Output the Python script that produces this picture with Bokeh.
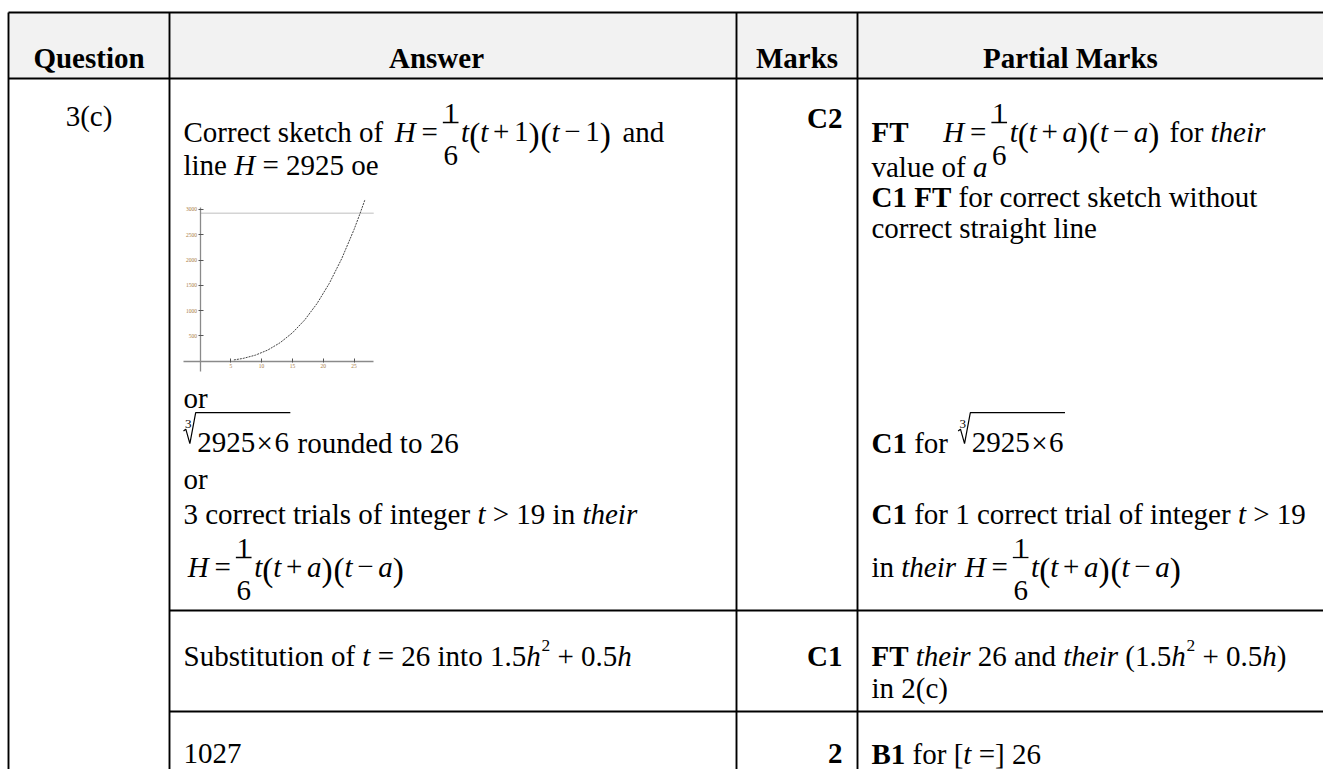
from bokeh.plotting import figure
from bokeh.models import Range1d, FixedTicker, LinearAxis
from bokeh.embed import file_html
from bokeh.resources import INLINE
from bokeh.core.properties import value

# ---------------- data ----------------
t_curve = [5.5, 7, 9, 11, 13, 15, 17, 19, 21, 23, 25, 26, 26.8]
H_curve = [25, 55, 120, 220, 365, 560, 815, 1140, 1540, 2025, 2600, 2925, 3200]
H_line = 2925
t_ticks = [5, 10, 15, 20, 25]
t_tick_labels = ["5", "10", "15", "20", "25"]
H_ticks = [500, 1000, 1500, 2000, 2500, 3000]
H_tick_labels = ["500", "1000", "1500", "2000", "2500", "3000"]
t_axis_extent = (-2.6, 28.2)
H_axis_extent = (-200, 3030)

headers = ["Question", "Answer", "Marks", "Partial Marks"]
question_label = "3(c)"
marks_awarded = ["C2", "C1", "2"]


def math_expr(c, cstyle):
    return [("i", "H"), ("g", 0.2), ("r", "="), ("g", 0.12), ("frac", "1", "6"), ("g", 0.04),
            ("i", "t"), ("p", "("), ("i", "t"), ("g", 0.16), ("r", "+"), ("g", 0.16), (cstyle, c),
            ("p", ")"), ("g", 0.03), ("p", "("), ("i", "t"), ("g", 0.16), ("r", "\u2212"), ("g", 0.16),
            (cstyle, c), ("p", ")")]


root_2925 = ("root", "3", [("r", "2925"), ("g", 0.05), ("r", "\u00d7"), ("g", 0.05), ("r", "6")])

answer_lines = [
    [("r", "Correct sketch of "), ("g", 0.15)] + math_expr("1", "r") + [("g", 0.15), ("r", " and")],
    [("r", "line "), ("i", "H"), ("r", " = 2925 oe")],
    [("r", "or")],
    [root_2925, ("g", 0.25), ("r", "rounded to 26")],
    [("r", "or")],
    [("r", "3 correct trials of integer "), ("i", "t"), ("r", " > 19 in "), ("i", "their")],
    [("g", 0.15)] + math_expr("a", "i"),
    [("r", "Substitution of "), ("i", "t"), ("r", " = 26 into 1.5"), ("i", "h"), ("sup", "2"),
     ("r", " + 0.5"), ("i", "h")],
    [("r", "1027")],
]
partial_lines = [
    [("b", "FT"), ("g", 1.2)] + math_expr("a", "i") + [("g", 0.1), ("r", " for "), ("i", "their")],
    [("r", "value of "), ("i", "a")],
    [("b", "C1 FT"), ("r", " for correct sketch without")],
    [("r", "correct straight line")],
    [("b", "C1"), ("r", " for "), ("g", 0.1), root_2925],
    [("b", "C1"), ("r", " for 1 correct trial of integer "), ("i", "t"), ("r", " > 19")],
    [("r", "in "), ("i", "their"), ("g", 0.3)] + math_expr("a", "i"),
    [("b", "FT"), ("r", " "), ("i", "their"), ("r", " 26 and "), ("i", "their"), ("r", " (1.5"),
     ("i", "h"), ("sup", "2"), ("r", " + 0.5"), ("i", "h"), ("r", ")")],
    [("r", "in 2(c)")],
    [("b", "B1"), ("r", " for ["), ("i", "t"), ("r", " =] 26")],
]

# ---------------- layout constants (page pixels) ----------------
FONT = "Liberation Serif"
F = 29
PW, PH = 1323, 769
COLS = [8, 169, 736, 857]
RIGHT = PW
TOP, HEAD_BOTTOM, ROW2_TOP, ROW3_TOP, BOTTOM = 12, 78, 610, 711, PH
HEAD_BASE = 57
HEAD_CENTERS = [88.5, 436, 796.5, 1070]
Q_CENTER, Q_BASE = 88.5, 115
MARK_RIGHT = 842
MARK_BASES = [117, 655, 753]
ANS_X = 183
ANS_BASES = [131, 164, 397, 442, 478, 513, 566, 655, 753]
PART_X = 871
PART_BASES = [131, 166, 196, 227, 442, 513, 566, 655, 687, 753]

# ---------------- Times / Liberation Serif advance widths ----------------
_common = {' ': 250, '(': 333, ')': 333, '+': 564, '.': 250, '=': 564, '>': 564, '[': 333, ']': 333,
           '\u00d7': 564, '\u2212': 564, ',': 250}
for d in "0123456789":
    _common[d] = 500
ROMAN = dict(_common)
ROMAN.update(dict(zip("abcdefghijklmnopqrstuvwxyz",
                      [444, 500, 444, 500, 444, 333, 500, 500, 278, 278, 500, 278, 778, 500, 500, 500, 500, 333,
                       389, 278, 500, 500, 722, 500, 500, 444])))
ROMAN.update(dict(zip("ABCDEFGHIJKLMNOPQRSTUVWXYZ",
                      [722, 667, 667, 722, 611, 556, 722, 722, 333, 389, 722, 611, 889, 722, 722, 556, 722, 667,
                       556, 611, 722, 722, 944, 722, 722, 611])))
BOLD = dict(_common)
BOLD.update(dict(zip("abcdefghijklmnopqrstuvwxyz",
                     [500, 556, 444, 556, 444, 333, 500, 556, 278, 333, 556, 278, 833, 556, 500, 556, 556, 444,
                      389, 333, 556, 500, 722, 500, 500, 444])))
BOLD.update(dict(zip("ABCDEFGHIJKLMNOPQRSTUVWXYZ",
                     [722, 667, 722, 722, 667, 611, 778, 778, 389, 500, 778, 667, 944, 722, 778, 611, 778, 722,
                      556, 667, 722, 722, 1000, 722, 722, 667])))
ITALIC = dict(_common)
ITALIC.update(dict(zip("abcdefghijklmnopqrstuvwxyz",
                       [500, 500, 444, 500, 444, 278, 500, 500, 278, 278, 444, 278, 722, 500, 500, 500, 500, 389,
                        389, 278, 500, 444, 667, 444, 444, 389])))
ITALIC.update({'H': 722})
METRICS = {"normal": ROMAN, "bold": BOLD, "italic": ITALIC}
STYLE = {"r": "normal", "b": "bold", "i": "italic"}

texts = {}
segs = dict(x0=[], y0=[], x1=[], y1=[])
polys = dict(xs=[], ys=[])


def emit(x, y, s, style="normal", size=F, align="left"):
    d = texts.setdefault((style, size, align), dict(x=[], y=[], text=[]))
    d["x"].append(x)
    d["y"].append(y)
    d["text"].append(s)


def tw(s, style, size):
    tbl = METRICS[style]
    return sum(tbl.get(c, 500) for c in s) * size / 1000.0


def run(tokens, x, b, size=F):
    for tok in tokens:
        k = tok[0]
        if k in STYLE:
            st = STYLE[k]
            s = tok[1]
            core = s.lstrip(" ")
            x += tw(s[:len(s) - len(core)], st, size)
            if core.strip():
                emit(x, b, core.rstrip(" "), st, size)
            x += tw(core, st, size)
        elif k == "g":
            x += tok[1] * size
        elif k == "frac":
            w = 0.64 * size
            emit(x + w / 2, b - 0.62 * size, tok[1], "normal", size, "center")
            emit(x + w / 2, b + 0.83 * size, tok[2], "normal", size, "center")
            segs["x0"].append(x + 0.05 * size)
            segs["x1"].append(x + w - 0.05 * size)
            segs["y0"].append(b - 0.31 * size)
            segs["y1"].append(b - 0.31 * size)
            x += w
        elif k == "p":
            ps = round(size * 1.15, 1)
            emit(x, b + 0.1 * size, tok[1], "normal", ps)
            x += tw(tok[1], "normal", ps)
        elif k == "sup":
            ss = round(size * 0.6, 1)
            emit(x + 0.03 * size, b - 0.36 * size, tok[1], "normal", ss)
            x += tw(tok[1], "normal", ss) + 0.03 * size
        elif k == "root":
            isz = round(size * 0.45, 1)
            emit(x + 0.05 * size, b - 0.65 * size, tok[1], "normal", isz)
            px = [x, x + 0.08 * size, x + 0.22 * size, x + 0.42 * size]
            py = [b - 0.40 * size, b - 0.46 * size, b + 0.04 * size, b - 1.03 * size]
            xe = run(tok[2], x + 0.47 * size, b, size)
            px.append(xe + 0.05 * size)
            py.append(b - 1.03 * size)
            polys["xs"].append(px)
            polys["ys"].append(py)
            x = xe + 0.05 * size
    return x


for h, cx in zip(headers, HEAD_CENTERS):
    emit(cx, HEAD_BASE, h, "bold", F, "center")
emit(Q_CENTER, Q_BASE, question_label, "normal", F, "center")
for m, b in zip(marks_awarded, MARK_BASES):
    emit(MARK_RIGHT, b, m, "bold", F, "right")
for toks, b in zip(answer_lines, ANS_BASES):
    run(toks, ANS_X, b)
for toks, b in zip(partial_lines, PART_BASES):
    run(toks, PART_X, b)

# ---------------- figure (page-pixel coordinates) ----------------
p = figure(width=PW, height=PH, x_range=Range1d(0, PW), y_range=Range1d(PH, 0),
           toolbar_location=None, output_backend="svg", min_border=0,
           x_axis_location=None, y_axis_location=None, outline_line_color=None,
           background_fill_color="white", border_fill_color="white")
p.grid.visible = False

# table
p.quad(left=COLS[0], right=RIGHT, top=TOP, bottom=HEAD_BOTTOM, fill_color="#f2f2f2", line_color=None)
p.segment(x0=[COLS[0], COLS[0], COLS[1], COLS[1]], x1=[RIGHT] * 4,
          y0=[TOP, HEAD_BOTTOM, ROW2_TOP, ROW3_TOP], y1=[TOP, HEAD_BOTTOM, ROW2_TOP, ROW3_TOP],
          line_color="black", line_width=1.9)
p.segment(x0=COLS, x1=COLS, y0=[TOP] * 4, y1=[BOTTOM] * 4, line_color="black", line_width=1.9)

# fraction bars and radicals
p.segment(x0="x0", y0="y0", x1="x1", y1="y1", source=segs, line_color="black", line_width=1.3)
p.multi_line(xs="xs", ys="ys", source=polys, line_color="black", line_width=1.2)

for (style, size, align), d in texts.items():
    p.text(x="x", y="y", text="text", source=d, text_font=value(FONT), text_font_style=style,
           text_font_size=f"{size}px", text_align=align, text_baseline="alphabetic", text_color="black")

# ---------------- inset sketch: its own scales, placed inside the Answer cell ----------------
T0_PX, T_PX_PER_UNIT = 199.5, 6.16      # page x of t = 0, pixels per unit of t
H0_PX, H_PX_PER_UNIT = 360.7, 0.0506    # page y of H = 0, pixels per unit of H
p.extra_x_ranges = {"t": Range1d((0 - T0_PX) / T_PX_PER_UNIT, (PW - T0_PX) / T_PX_PER_UNIT)}
p.extra_y_ranges = {"H": Range1d((H0_PX - PH) / H_PX_PER_UNIT, (H0_PX - 0) / H_PX_PER_UNIT)}

xa = LinearAxis(x_range_name="t", y_range_name="H", fixed_location=0,
                ticker=FixedTicker(ticks=t_ticks),
                major_label_overrides={t: s for t, s in zip(t_ticks, t_tick_labels)},
                bounds=t_axis_extent, major_tick_in=3, major_tick_out=1, major_label_standoff=2)
ya = LinearAxis(x_range_name="t", y_range_name="H", fixed_location=0,
                ticker=FixedTicker(ticks=H_ticks),
                major_label_overrides={h: s for h, s in zip(H_ticks, H_tick_labels)},
                bounds=H_axis_extent, major_tick_in=3, major_tick_out=2, major_label_standoff=1)
for ax in (xa, ya):
    ax.axis_line_color = "#8a8a8a"
    ax.axis_line_width = 1.3
    ax.major_tick_line_color = "#555555"
    ax.major_tick_line_width = 1
    ax.minor_tick_line_color = None
    ax.major_label_text_font = FONT
    ax.major_label_text_font_size = "5.5px"
    ax.major_label_text_color = "#a87c45"
p.add_layout(xa, "below")
p.add_layout(ya, "left")

p.segment(x0=0, x1=t_axis_extent[1], y0=H_line, y1=H_line, x_range_name="t", y_range_name="H",
          line_color="#d4d4d4", line_width=1.5)
p.line(t_curve, H_curve, x_range_name="t", y_range_name="H",
       line_color="#444444", line_width=1, line_dash="2 1")

open("out.html", "w").write(file_html(p, INLINE))
